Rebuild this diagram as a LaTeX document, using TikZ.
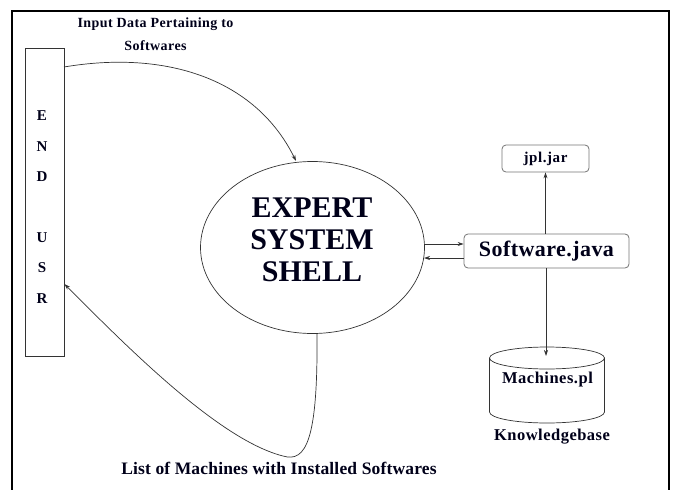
\documentclass[tikz,border=0pt]{standalone}
\usepackage{fontspec}
\setmainfont{Liberation Serif}
\usetikzlibrary{arrows.meta,shapes.geometric}
\tikzset{
  conn/.style={draw=black!80, line width=0.7pt},
  tip/.style={-{Stealth[length=6pt,width=4pt]}},
  roundbox/.style={draw=black!55, line width=0.8pt, rounded corners=4pt, inner sep=0pt},
  lbl/.style={text=black!90!blue, font=\bfseries, inner sep=0pt},
  letter/.style={lbl, font=\fontsize{15}{17}\selectfont\bfseries},
}
\begin{document}
\begin{tikzpicture}[x=1pt, y=-1pt]
  \useasboundingbox (0,0) rectangle (675,490);
  % outer frame, open at the bottom edge
  \draw[line width=2pt] (12,500) -- (12,11) -- (669,11) -- (669,500);

  % end user column
  \node[draw=black!80, line width=0.7pt, minimum width=39pt, minimum height=308pt, inner sep=0pt] (user) at (44.5,202) {};
  \node[letter] (l1) at (42,116) {E};
  \node[letter] (l2) at (42,147) {N};
  \node[letter] (l3) at (42,177) {D};
  \node[letter] (l4) at (42,238) {U};
  \node[letter] (l5) at (42,268) {S};
  \node[letter] (l6) at (42,299) {R};

  % expert system shell
  \node[draw=black!80, line width=0.7pt, ellipse, minimum width=224pt, minimum height=172pt, inner sep=0pt] (shell) at (312.5,247.5) {};
  \node[lbl, font=\fontsize{30}{33}\selectfont\bfseries, align=center] (shelltxt) at (312,240)
    {EXPERT\\[-1pt]SYSTEM\\[-1pt]SHELL};

  % java front end and prolog bridge
  \node[roundbox, minimum width=165pt, minimum height=34pt] (soft) at (546.5,251) {};
  \node[lbl, font=\fontsize{22}{24}\selectfont\bfseries\addfontfeature{LetterSpace=2}] (softtxt) at (546.5,251) {Software.java};
  \node[roundbox, minimum width=87pt, minimum height=27pt] (jpl) at (545.5,158.5) {};
  \node[lbl, font=\fontsize{15}{17}\selectfont\bfseries\addfontfeature{LetterSpace=4}] (jpltxt) at (545.5,158.5) {jpl.jar};

  % knowledge base cylinder
  \coordinate (kbtop) at (546,356);
  \draw[draw=black!80, line width=0.7pt]
    (489.5,358) -- (489.5,412) arc[start angle=180, end angle=360, x radius=57.5pt, y radius=11pt]
    -- (604.5,358);
  \draw[draw=black!80, line width=0.7pt] (547,358) ellipse[x radius=57.5pt, y radius=11pt];
  \node[lbl, font=\fontsize{16.5}{18}\selectfont\bfseries\addfontfeature{LetterSpace=3}] (kbfile) at (547.5,380) {Machines.pl};
  \node[lbl, font=\fontsize{16.5}{18}\selectfont\bfseries\addfontfeature{LetterSpace=3}] (kbname) at (552,437) {Knowledgebase};

  % flow labels
  \node[lbl, font=\fontsize{14}{16}\selectfont\bfseries\addfontfeature{LetterSpace=3}] (inlbl1) at (155.5,24) {Input Data Pertaining to};
  \node[lbl, font=\fontsize{14}{16}\selectfont\bfseries\addfontfeature{LetterSpace=3}] (inlbl2) at (155.5,46) {Softwares};
  \node[lbl, font=\fontsize{17.5}{19}\selectfont\bfseries\addfontfeature{LetterSpace=1}] (outlbl) at (279,468) {List of Machines with Installed Softwares};

  % connectors
  \coordinate (userin) at (64,67);
  \coordinate (userout) at (64.5,284);
  \coordinate (shelltop) at (296,161);
  \coordinate (shellbot) at (317,333);
  \coordinate (loop) at (283,456);
  \draw[conn, tip] (userin) .. controls (165,50) and (255,78) .. (shelltop);
  \draw[conn, tip] (shellbot) .. controls (318,440) and (306,463) .. (loop)
    .. controls (220,440) and (130,350) .. (userout);

  \draw[conn, tip] (424,244) -- (soft.west |- 0,244);
  \draw[conn, tip] (soft.west |- 0,258) -- (424,258);
  \draw[conn, tip] (soft.north -| jpl.south) -- (jpl.south);
  \draw[conn, tip] (soft.south -| kbtop) -- (kbtop);
\end{tikzpicture}
\end{document}
